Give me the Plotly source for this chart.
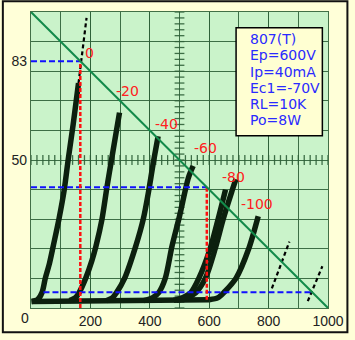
import numpy as np
import plotly.graph_objects as go

# ---------------- data ----------------
grid_bias_labels = ["0", "-20", "-40", "-60", "-80", "-100"]
label_v = [197, 326, 455, 586, 682, 761]
label_ma = [86.2, 73.2, 62.2, 53.9, 44.4, 35.3]

curve_0_v = [2, 22, 37, 48, 62, 75, 94, 112, 125, 142, 160]
curve_0_ma = [2.2, 2.8, 5.2, 10, 15, 21, 30, 40, 50, 62, 76]
curve_20_v = [130, 150, 162, 184, 205, 219, 239, 256, 271, 298]
curve_20_ma = [2.5, 3.5, 5.2, 10, 16, 21, 30, 41, 50, 66]
curve_40_v = [255, 275, 288, 315, 353, 378, 397, 410, 428]
curve_40_ma = [2.5, 3.5, 5.2, 10, 21, 30, 40, 48, 58]
curve_60_v = [380, 410, 430, 452, 475, 500, 530, 546]
curve_60_ma = [2.5, 3.5, 5.2, 10, 21, 31, 44, 48]
curve_80a_v = [480, 510, 538, 565, 603, 630, 655]
curve_80a_ma = [2.6, 3.5, 5.2, 10, 20, 30, 40]
curve_80b_v = [490, 525, 555, 587, 620, 647, 675, 690]
curve_80b_ma = [2.6, 3.5, 5.2, 10, 20, 30, 39, 43.5]
curve_100_v = [600, 630, 652, 690, 733, 765]
curve_100_ma = [2.8, 3.5, 5.5, 10, 20, 31]
baseline_v = [2, 100, 200, 300, 400, 500, 600]
baseline_ma = [2.2, 2.3, 2.4, 2.5, 2.6, 2.7, 2.8]

load_v = [0, 1000]
load_ma = [100, 0]

ext_a_v = [160, 187]
ext_a_ma = [76, 98]
ext_b_v = [811, 870]
ext_b_ma = [6.6, 22.4]
ext_c_v = [932, 981]
ext_c_ma = [2.3, 14.1]

op_hi_v, op_hi_ma = 166, 83.4
op_q_v, op_q_ma = 592, 40.8
op_lo_v0, op_lo_v1, op_lo_ma = 42, 947, 5.3

x_tick_vals = [200, 400, 600, 800, 1000]
y_tick_vals = [50, 83.4]
y_tick_text = ["50", "83"]

info_lines = ["807(T)", "Ep=600V", "Ip=40mA", "Ec1=-70V", "RL=10K", "Po=8W"]

# ---------------- figure ----------------
CURVE = "#0c200e"
GRID = "rgba(45,95,55,0.9)"
fig = go.Figure()

# graticule centre ticks
fig.add_trace(go.Scatter(x=np.arange(0, 1001, 20), y=[50] * 51, mode="markers",
                         marker=dict(symbol="line-ns", size=7, line=dict(width=1.3, color=GRID)),
                         hoverinfo="skip", showlegend=False))
fig.add_trace(go.Scatter(x=[500] * 51, y=np.arange(0, 101, 2), mode="markers",
                         marker=dict(symbol="line-ew", size=7, line=dict(width=1.3, color=GRID)),
                         hoverinfo="skip", showlegend=False))

# characteristic curves
fig.add_trace(go.Scatter(x=baseline_v, y=baseline_ma, mode="lines",
                         line=dict(color=CURVE, width=5.5), showlegend=False))
for cv, cm in [(curve_0_v, curve_0_ma), (curve_20_v, curve_20_ma), (curve_40_v, curve_40_ma),
               (curve_60_v, curve_60_ma), (curve_80a_v, curve_80a_ma), (curve_80b_v, curve_80b_ma),
               (curve_100_v, curve_100_ma)]:
    fig.add_trace(go.Scatter(x=cv, y=cm, mode="lines",
                             line=dict(color=CURVE, width=5.5, shape="spline", smoothing=0.8),
                             showlegend=False))

# dashed extensions
for ev, em in [(ext_a_v, ext_a_ma), (ext_b_v, ext_b_ma), (ext_c_v, ext_c_ma)]:
    fig.add_trace(go.Scatter(x=ev, y=em, mode="lines",
                             line=dict(color="black", width=2.2, dash="4px,3px"), showlegend=False))

# blue dashed
fig.add_trace(go.Scatter(x=[0, op_hi_v], y=[op_hi_ma, op_hi_ma], mode="lines",
                         line=dict(color="#1010ff", width=2, dash="6px,3px"), showlegend=False))
fig.add_trace(go.Scatter(x=[0, op_q_v], y=[op_q_ma, op_q_ma], mode="lines",
                         line=dict(color="#1010ff", width=2, dash="6px,3px"), showlegend=False))
fig.add_trace(go.Scatter(x=[op_lo_v0, op_lo_v1], y=[op_lo_ma, op_lo_ma], mode="lines",
                         line=dict(color="#1010ff", width=2, dash="6px,3px"), showlegend=False))
# red dashed
fig.add_trace(go.Scatter(x=[op_hi_v, op_hi_v], y=[0, op_hi_ma], mode="lines",
                         line=dict(color="#ff1010", width=2.5, dash="4px,2px"), showlegend=False))
fig.add_trace(go.Scatter(x=[op_q_v, op_q_v], y=[baseline_ma[-1], op_q_ma], mode="lines",
                         line=dict(color="#ff1010", width=2.5, dash="4px,2px"), showlegend=False))

# load line
fig.add_trace(go.Scatter(x=load_v, y=load_ma, mode="lines",
                         line=dict(color="#128a4a", width=2), showlegend=False))

annotations = []
for t, lv, lm in zip(grid_bias_labels, label_v, label_ma):
    annotations.append(dict(x=lv, y=lm, text=t, showarrow=False,
                            font=dict(color="#ff2020", size=14, family="DejaVu Sans")))
annotations.append(dict(x=0, y=0, text="0", showarrow=False, xshift=-6, yshift=-10,
                        font=dict(color="#222222", size=14, family="Liberation Sans")))
for i, t in enumerate(info_lines):
    annotations.append(dict(x=729, y=90.8 - i * 5.47, text=t, showarrow=False,
                            xanchor="left", yanchor="middle",
                            font=dict(color="#2a2aff", size=14, family="DejaVu Sans")))

W, H = 355, 340
L, R, T, B = 29, 20, 11, 25
pw, ph = W - L - R, H - T - B
shapes = [
    dict(type="rect", xref="x", yref="y", x0=690.5, x1=981, y0=58.2, y1=94.7,
         fillcolor="#ffffd2", line=dict(color="black", width=1.5), layer="above"),
    dict(type="rect", xref="paper", yref="paper", x0=-L / pw, x1=1 + R / pw,
         y0=-B / ph, y1=1 + T / ph, line=dict(color="#111111", width=2), layer="above"),
]

fig.update_layout(
    width=W, height=H, margin=dict(l=L, r=R, t=T, b=B),
    paper_bgcolor="#ffffd8", plot_bgcolor="#caf3ca",
    annotations=annotations, shapes=shapes, showlegend=False,
    xaxis=dict(range=[0, 1000], tickvals=x_tick_vals, showgrid=True, gridcolor=GRID, gridwidth=1.4,
               zeroline=False, showline=True, linecolor=GRID, linewidth=1.4, mirror=True,
               tickfont=dict(color="#222222", size=14, family="Liberation Sans"),
               minor=dict(dtick=100, showgrid=True, gridcolor=GRID, gridwidth=1.4)),
    yaxis=dict(range=[0, 100], tickvals=y_tick_vals, ticktext=y_tick_text, showgrid=False,
               zeroline=False, showline=True, linecolor=GRID, linewidth=1.4, mirror=True,
               tickfont=dict(color="#222222", size=14, family="Liberation Sans"),
               minor=dict(dtick=10, showgrid=True, gridcolor=GRID, gridwidth=1.4)),
)

fig.write_html("out.html")
